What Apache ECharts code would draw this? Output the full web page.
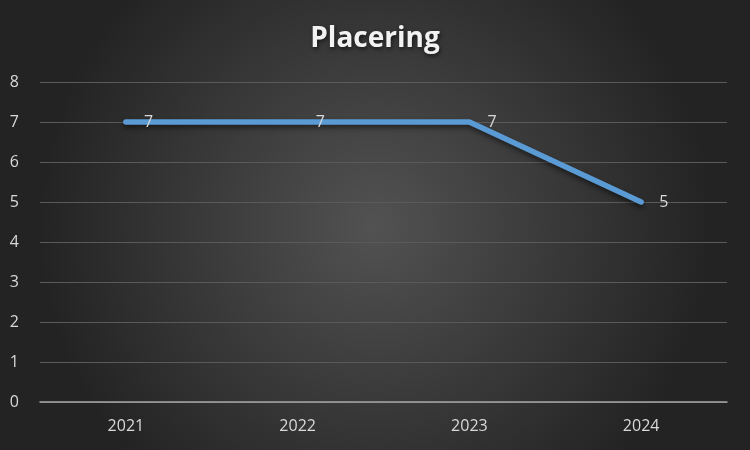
<!DOCTYPE html>
<html>
<head>
<meta charset="utf-8">
<script src="https://cdn.jsdelivr.net/npm/echarts@6/dist/echarts.min.js"></script>
<style>html,body{margin:0;padding:0;}#c{width:750px;height:450px;}</style>
</head>
<body>
<div id="c"></div>
<script>
const categories = ['2021', '2022', '2023', '2024'];
const placering = [7, 7, 7, 5];
const yTicks = [0, 1, 2, 3, 4, 5, 6, 7, 8];

const chart = echarts.init(document.getElementById('c'), null, {renderer: 'canvas'});
chart.setOption({
  backgroundColor: {
    type: 'radial', x: 0.5, y: 0.5, r: 0.75,
    colorStops: [{offset: 0, color: '#525252'}, {offset: 1, color: '#232323'}]
  },
  title: {
    text: 'Placering', left: 'center', top: 20,
    textStyle: {
      color: '#f2f2f2', fontSize: 28, fontWeight: 'bold', fontFamily: 'Open Sans',
      textShadowColor: 'rgba(0,0,0,0.6)', textShadowBlur: 4, textShadowOffsetX: 1, textShadowOffsetY: 2
    }
  },
  grid: {left: 40, right: 23, top: 82, bottom: 48},
  xAxis: {
    type: 'category', data: categories, boundaryGap: true,
    axisLine: {lineStyle: {color: '#a6a6a6', width: 1.5}},
    axisTick: {show: false},
    axisLabel: {color: '#d9d9d9', fontSize: 16, fontFamily: 'Open Sans', margin: 16}
  },
  yAxis: {
    type: 'value', min: yTicks[0], max: yTicks[yTicks.length - 1], interval: 1,
    axisLine: {show: false}, axisTick: {show: false},
    axisLabel: {color: '#d9d9d9', fontSize: 16, fontFamily: 'Open Sans', margin: 21},
    splitLine: {lineStyle: {color: '#5a5a5a', width: 1}}
  },
  series: [{
    type: 'line', data: placering, symbol: 'circle', symbolSize: 0, showSymbol: true,
    lineStyle: {color: '#5b9bd5', width: 5.5, cap: 'round', join: 'round',
      shadowColor: 'rgba(0,0,0,0.5)', shadowBlur: 5, shadowOffsetY: 3},
    itemStyle: {color: '#5b9bd5'},
    label: {show: true, position: 'right', distance: 18, color: '#d9d9d9', fontSize: 16, fontFamily: 'Open Sans'},
    animation: false
  }],
  animation: false
});
</script>
</body>
</html>
